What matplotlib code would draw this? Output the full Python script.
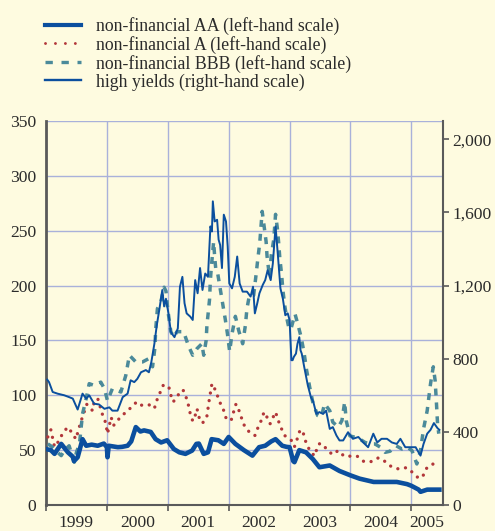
import matplotlib
matplotlib.use("Agg")
import matplotlib.pyplot as plt
from matplotlib.ticker import FixedLocator, NullFormatter, FuncFormatter
from matplotlib.lines import Line2D

# ---------------- data (spreads, basis points) ----------------
series_labels = [
    "non-financial AA (left-hand scale)",
    "non-financial A (left-hand scale)",
    "non-financial BBB (left-hand scale)",
    "high yields (right-hand scale)",
]
year_labels = ["1999", "2000", "2001", "2002", "2003", "2004", "2005"]

aa_dates = [1999.00, 1999.08, 1999.14, 1999.25, 1999.36, 1999.44, 1999.46, 1999.52, 1999.60,
            1999.66, 1999.75, 1999.85, 1999.95, 2000.00, 2000.01, 2000.03, 2000.18, 2000.25,
            2000.34, 2000.40, 2000.475, 2000.55, 2000.61, 2000.72, 2000.80, 2000.89, 2000.99,
            2001.10, 2001.19, 2001.29, 2001.40, 2001.47, 2001.51, 2001.59, 2001.66, 2001.72,
            2001.83, 2001.92, 2002.00, 2002.11, 2002.25, 2002.39, 2002.50, 2002.60, 2002.70,
            2002.77, 2002.88, 2002.95, 2003.00, 2003.06, 2003.08, 2003.16, 2003.27, 2003.38,
            2003.49, 2003.66, 2003.82, 2004.00, 2004.15, 2004.38, 2004.60, 2004.76, 2004.93,
            2005.00, 2005.12, 2005.15, 2005.26, 2005.46]
aa_vals = [51, 50, 46.6, 55.7, 48, 44, 40, 43.5, 60,
           54, 55, 54, 56, 52.7, 43.5, 54, 52.7, 53,
           54, 58, 71, 67, 68, 66.6, 60, 57, 59,
           51, 48, 46.6, 49.6, 55.7, 56, 46.6, 48, 60,
           59, 55.7, 62, 55.7, 50, 45, 52.7, 54, 58,
           60, 54, 53, 52.7, 40, 39, 50, 48, 42,
           34.4, 36, 31, 27, 24, 21, 21, 21, 19,
           17.5, 14, 12, 14, 14]

a_dates = [1999.03, 1999.08, 1999.14, 1999.22, 1999.27, 1999.355, 1999.44, 1999.49, 1999.57,
           1999.67, 1999.765, 1999.79, 1999.85, 1999.93, 1999.98, 2000.01, 2000.07, 2000.11,
           2000.20, 2000.28, 2000.38, 2000.49, 2000.57, 2000.69, 2000.78, 2000.82, 2000.87,
           2000.93, 2001.02, 2001.055, 2001.09, 2001.18, 2001.25, 2001.30, 2001.34, 2001.37,
           2001.41, 2001.45, 2001.48, 2001.52, 2001.57, 2001.64, 2001.66, 2001.68, 2001.725,
           2001.77, 2001.82, 2001.87, 2001.92, 2001.96, 2002.04, 2002.08, 2002.12, 2002.165,
           2002.21, 2002.26, 2002.34, 2002.43, 2002.48, 2002.54, 2002.58, 2002.63, 2002.68,
           2002.725, 2002.77, 2002.81, 2002.86, 2002.92, 2003.03, 2003.08, 2003.13, 2003.17,
           2003.215, 2003.25, 2003.30, 2003.37, 2003.425, 2003.45, 2003.50, 2003.60, 2003.70,
           2003.80, 2003.895, 2004.00, 2004.11, 2004.22, 2004.34, 2004.46, 2004.57, 2004.67,
           2004.78, 2004.92, 2005.02, 2005.12, 2005.19, 2005.24, 2005.35, 2005.45]
a_vals = [62, 68.5, 53, 59, 65, 71, 65, 60, 75.5,
          91.7, 86, 93.8, 97, 82, 75, 65, 80, 72.5,
          78.6, 83, 88, 94, 91, 91.4, 88, 95.4, 102,
          109.7, 107, 99.3, 94, 101, 105, 98.4, 90.8, 83,
          76.5, 81.6, 87.7, 78.6, 74.6, 80, 87.7, 95.4, 110.6,
          106, 99, 91.7, 86, 78.6, 77, 84.7, 92, 86.8,
          79.5, 72, 66.4, 63.3, 70.4, 77.7, 84.7, 80, 74,
          79.5, 84.7, 77.7, 70.4, 63.3, 58.8, 53, 61, 68,
          67.9, 60, 53, 46.6, 45, 53, 56.3, 51.7, 46,
          49.6, 44.5, 44.5, 44.5, 39.6, 39.6, 43, 39.6, 35,
          33, 34, 29.7, 24.3, 26.3, 33, 37.4, 33.5]

bbb_dates = [1999.03, 1999.11, 1999.19, 1999.25, 1999.30, 1999.38, 1999.44, 1999.465, 1999.50,
             1999.55, 1999.60, 1999.66, 1999.71, 1999.79, 1999.90, 1999.96, 2000.01, 2000.09,
             2000.23, 2000.31, 2000.37, 2000.475, 2000.585, 2000.69, 2000.75, 2000.79, 2000.80,
             2000.83, 2000.885, 2000.94, 2000.97, 2001.00, 2001.05, 2001.10, 2001.15, 2001.26,
             2001.34, 2001.41, 2001.48, 2001.56, 2001.59, 2001.63, 2001.643, 2001.66, 2001.687,
             2001.698, 2001.714, 2001.736, 2001.753, 2001.77, 2001.79, 2001.82, 2001.86, 2001.90,
             2001.945, 2001.98, 2002.016, 2002.055, 2002.11, 2002.165, 2002.23, 2002.275, 2002.30,
             2002.34, 2002.41, 2002.45, 2002.48, 2002.51, 2002.55, 2002.58, 2002.615, 2002.63,
             2002.67, 2002.70, 2002.74, 2002.77, 2002.80, 2002.82, 2002.84, 2002.87, 2002.89,
             2002.92, 2002.95, 2002.99, 2003.02, 2003.09, 2003.13, 2003.19, 2003.24, 2003.28,
             2003.33, 2003.38, 2003.46, 2003.52, 2003.575, 2003.66, 2003.71, 2003.80, 2003.86,
             2003.905, 2003.93, 2003.99, 2004.07, 2004.155, 2004.24, 2004.32, 2004.40, 2004.49,
             2004.57, 2004.65, 2004.75, 2004.845, 2004.93, 2005.01, 2005.09, 2005.15, 2005.20,
             2005.26, 2005.315, 2005.36, 2005.39, 2005.41, 2005.43, 2005.45]
bbb_vals = [55.7, 52.7, 48, 45, 49.6, 54, 43, 39, 48,
            55.7, 83, 97, 110.6, 109, 112, 106, 95, 106,
            103, 118, 136.5, 130.4, 130.4, 133.5, 126, 144, 159,
            179, 185, 198.5, 195, 178, 158, 153, 158, 158,
            145, 136.5, 142.6, 147, 136.5, 150, 164, 173, 188,
            203.6, 216, 229.6, 240, 226.5, 214, 211, 197.5, 184,
            169, 156, 140, 156, 172, 159, 147, 164, 179,
            191, 191, 210, 225, 238.7, 267.7, 255, 240, 227,
            208, 228, 241.8, 265, 252, 239.6, 225, 209.7, 196,
            182, 171.6, 161, 160, 174, 166, 153, 138, 122.8,
            107.6, 94, 81.6, 80, 92.3, 86, 75.5, 71, 77,
            94, 77, 63, 61.8, 60, 57, 55.7, 55.7, 52.7,
            48, 49, 54, 51, 52.7, 49.6, 37.4, 49.6, 69.4,
            86, 110.6, 126, 113.6, 95, 74, 65]

hy_dates = [1999.02, 1999.05, 1999.11, 1999.19, 1999.30, 1999.38, 1999.44, 1999.52, 1999.60,
            1999.66, 1999.71, 1999.79, 1999.87, 1999.96, 2000.04, 2000.09, 2000.175, 2000.26,
            2000.34, 2000.39, 2000.45, 2000.50, 2000.56, 2000.64, 2000.69, 2000.73, 2000.78,
            2000.82, 2000.86, 2000.91, 2000.94, 2000.97, 2001.01, 2001.05, 2001.07, 2001.11,
            2001.165, 2001.20, 2001.24, 2001.275, 2001.31, 2001.37, 2001.41, 2001.45, 2001.49,
            2001.53, 2001.57, 2001.615, 2001.66, 2001.70, 2001.725, 2001.74, 2001.77, 2001.81,
            2001.835, 2001.86, 2001.89, 2001.92, 2001.956, 2001.984, 2002.01, 2002.055, 2002.10,
            2002.14, 2002.18, 2002.23, 2002.30, 2002.36, 2002.40, 2002.43, 2002.47, 2002.505,
            2002.56, 2002.60, 2002.64, 2002.69, 2002.725, 2002.77, 2002.81, 2002.85, 2002.89,
            2002.93, 2002.97, 2003.00, 2003.03, 2003.05, 2003.07, 2003.105, 2003.13, 2003.16,
            2003.18, 2003.20, 2003.24, 2003.30, 2003.35, 2003.39, 2003.44, 2003.49, 2003.55,
            2003.60, 2003.66, 2003.71, 2003.77, 2003.82, 2003.88, 2003.96, 2004.04, 2004.13,
            2004.21, 2004.29, 2004.375, 2004.44, 2004.51, 2004.60, 2004.68, 2004.76, 2004.82,
            2004.90, 2004.98, 2005.07, 2005.15, 2005.20, 2005.26, 2005.315, 2005.37, 2005.43,
            2005.46]
hy_vals = [686, 672, 618, 609, 600, 590, 582, 522, 609,
           582, 600, 554, 550, 526, 534, 516, 516, 590,
           609, 682, 672, 690, 726, 738, 726, 782, 882,
           984, 1066, 1176, 1086, 1128, 1050, 948, 936, 918,
           966, 1194, 1248, 1104, 1048, 1030, 1012, 1230, 1158,
           1296, 1176, 1266, 1248, 1524, 1496, 1661, 1551, 1560,
           1451, 1422, 1296, 1588, 1551, 1414, 1212, 1185, 1248,
           1359, 1212, 1167, 1167, 1140, 1194, 1048, 1104, 1158,
           1204, 1230, 1284, 1230, 1320, 1524, 1359, 1185, 1128,
           1038, 1048, 1012, 792, 792, 810, 828, 882, 918,
           846, 828, 756, 654, 590, 564, 498, 508, 498,
           516, 416, 426, 380, 353, 353, 398, 362, 372,
           342, 316, 390, 342, 362, 362, 342, 334, 362,
           316, 316, 316, 270, 334, 390, 411, 448, 420,
           411]

# ---------------- style ----------------
BG = "#fefbe0"
BLUE = "#0b4f9e"
RED = "#b2373a"
TEAL = "#4b8a9a"
GRID = "#a9b1da"
SPINE = "#5a5a5a"
TXT = "#2b2b2b"
FS = 12.6
LEG_FS = 12.8

plt.rcParams["font.family"] = ["Liberation Serif", "DejaVu Serif"]
plt.rcParams["font.size"] = FS

fig = plt.figure(figsize=(4.95, 5.31), dpi=100, facecolor=BG)
ax = fig.add_axes([0.0929, 0.049, 0.8021, 0.723])
ax.set_facecolor(BG)
ax2 = ax.twinx()

x0, x1 = 1999.0, 2005.52
ax.set_xlim(x0, x1)
ax.set_ylim(0, 350)
ax2.set_ylim(0, 2100)

A_LS = (0, (0.01, 2.3))
B_LS = (0, (2.0, 2.0))
ax.plot(aa_dates, aa_vals, color=BLUE, lw=3.3, solid_joinstyle="round", zorder=4)
ax.plot(a_dates, a_vals, color=RED, lw=2.4, ls=A_LS, dash_capstyle="round", zorder=3)
ax.plot(bbb_dates, bbb_vals, color=TEAL, lw=2.5, ls=B_LS, dash_capstyle="butt", zorder=3)
ax2.plot(hy_dates, hy_vals, color=BLUE, lw=1.4, zorder=5)

# x axis: year boundaries as major ticks (grid), labels at year midpoints
boundaries = list(range(1999, 2006))
ax.xaxis.set_major_locator(FixedLocator(boundaries))
ax.xaxis.set_major_formatter(NullFormatter())
mids = [b + 0.5 for b in boundaries[:-1]] + [(2005 + x1) / 2]
ax.xaxis.set_minor_locator(FixedLocator(mids))
ax.set_xticklabels(year_labels, minor=True)
ax.tick_params(axis="x", which="major", direction="out", length=4, width=1.2, color=SPINE)
ax.tick_params(axis="x", which="minor", length=0, pad=7, labelsize=FS, labelcolor=TXT)

ax.set_yticks(range(0, 351, 50))
ax.tick_params(axis="y", length=0, pad=7, labelsize=FS, labelcolor=TXT)

ax2.set_yticks(range(0, 2001, 400))
ax2.yaxis.set_major_formatter(FuncFormatter(lambda v, p: f"{int(v):,}"))
ax2.tick_params(axis="y", direction="out", length=4, width=1.2, color=SPINE,
                pad=3, labelsize=FS, labelcolor=TXT)

ax.grid(True, which="major", color=GRID, lw=1.0)
ax.set_axisbelow(True)

for a in (ax, ax2):
    a.spines["top"].set_visible(False)
ax.spines["right"].set_visible(False)
ax.spines["left"].set_color(SPINE)
ax.spines["left"].set_linewidth(2.0)
ax.spines["bottom"].set_color(SPINE)
ax.spines["bottom"].set_linewidth(1.5)
ax2.spines["left"].set_visible(False)
ax2.spines["bottom"].set_visible(False)
ax2.spines["right"].set_color(SPINE)
ax2.spines["right"].set_linewidth(1.5)

# legend
handles = [
    Line2D([], [], color=BLUE, lw=3.0),
    Line2D([], [], color=RED, lw=2.1, ls=(0, (0.01, 3.4)), dash_capstyle="round"),
    Line2D([], [], color=TEAL, lw=2.4, ls=(0, (2.2, 2.6))),
    Line2D([], [], color=BLUE, lw=1.7),
]
fig.legend(handles, series_labels, loc="upper left", bbox_to_anchor=(0.091, 0.968),
           frameon=False, fontsize=LEG_FS, handlelength=2.05, handletextpad=0.82,
           labelspacing=0.05, borderpad=0.0, borderaxespad=0.0, labelcolor=TXT)

fig.savefig("out.png", dpi=100, facecolor=BG)
